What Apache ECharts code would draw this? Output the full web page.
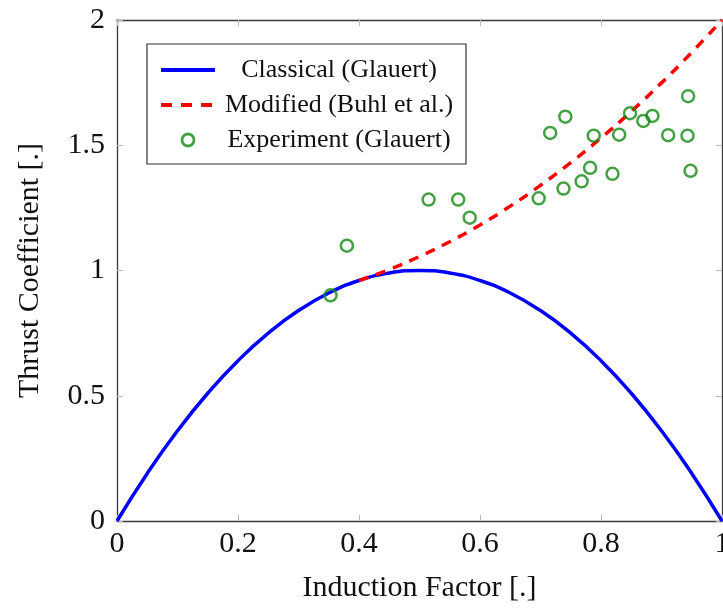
<!DOCTYPE html>
<html><head><meta charset="utf-8">
<script src="https://cdn.jsdelivr.net/npm/echarts@6/dist/echarts.min.js"></script>
<style>html,body{margin:0;padding:0;background:#fff}#c{width:723px;height:610px}</style>
</head><body><div id="c"></div>
<script>
// Classical (Glauert) curve
const classicalA  = [0, 0.05, 0.1, 0.15, 0.2, 0.25, 0.3, 0.35, 0.4, 0.45, 0.5, 0.55, 0.6, 0.65, 0.7, 0.75, 0.8, 0.85, 0.9, 0.95, 1];
const classicalCT = [0, 0.19, 0.36, 0.51, 0.64, 0.75, 0.84, 0.91, 0.96, 0.99, 1.0, 0.99, 0.96, 0.91, 0.84, 0.75, 0.64, 0.51, 0.36, 0.19, 0];
// Modified (Buhl et al.) curve
const modifiedA  = [0.4, 0.45, 0.5, 0.55, 0.6, 0.65, 0.7, 0.75, 0.8, 0.85, 0.9, 0.95, 1];
const modifiedCT = [0.96, 1.004, 1.056, 1.115, 1.182, 1.257, 1.34, 1.431, 1.529, 1.635, 1.749, 1.871, 2.0];
// Experiment (Glauert)
const expA  = [0.353, 0.380, 0.515, 0.564, 0.583, 0.697, 0.716, 0.741, 0.738, 0.768, 0.782, 0.788, 0.819, 0.830, 0.848, 0.870, 0.885, 0.911, 0.943, 0.948, 0.944];
const expCT = [0.901, 1.099, 1.283, 1.283, 1.211, 1.288, 1.549, 1.614, 1.327, 1.356, 1.410, 1.538, 1.386, 1.542, 1.628, 1.597, 1.617, 1.540, 1.538, 1.398, 1.696];

const seriesNames = ['Classical (Glauert)', 'Modified (Buhl et al.)', 'Experiment (Glauert)'];
const xTitle = 'Induction Factor [.]';
const yTitle = 'Thrust Coefficient [.]';

const zip = (a, b) => a.map((v, i) => [v, b[i]]);
const font = 'Liberation Serif';
const txt = '#111';
const green = '#148a14';
const axLine = {show: true, onZero: false, lineStyle: {color: '#3a3a3a', width: 1.3}};
const tick = {show: true, inside: true, length: 6, lineStyle: {color: '#b8b8b8', width: 1}};

const chart = echarts.init(document.getElementById('c'), null, {renderer: 'canvas'});
chart.setOption({
  animation: false,
  backgroundColor: '#fff',
  grid: {left: 117, right: 1, top: 20, bottom: 89, containLabel: false, outerBoundsMode: 'none'},
  xAxis: [
    {type: 'value', min: 0, max: 1, interval: 0.2,
     name: xTitle, nameLocation: 'middle', nameGap: 52,
     nameTextStyle: {fontFamily: font, fontSize: 30, color: txt},
     axisLine: axLine, axisTick: tick, splitLine: {show: false},
     axisLabel: {fontFamily: font, fontSize: 30, color: txt, margin: 8}},
    {type: 'value', position: 'top', min: 0, max: 1, interval: 0.2,
     axisLine: axLine, axisTick: tick, splitLine: {show: false}, axisLabel: {show: false}}
  ],
  yAxis: [
    {type: 'value', min: 0, max: 2, interval: 0.5,
     name: yTitle, nameLocation: 'middle', nameGap: 72,
     nameTextStyle: {fontFamily: font, fontSize: 30, color: txt},
     axisLine: axLine, axisTick: tick, splitLine: {show: false},
     axisLabel: {fontFamily: font, fontSize: 30, color: txt, margin: 12}},
    {type: 'value', position: 'right', min: 0, max: 2, interval: 0.5,
     axisLine: axLine, axisTick: tick, splitLine: {show: false}, axisLabel: {show: false}}
  ],
  legend: {
    orient: 'vertical', left: 147, top: 44,
    backgroundColor: '#fff', borderColor: '#333', borderWidth: 1.2,
    padding: [13, 8, 11, 12], itemGap: 9,
    itemWidth: 54, itemHeight: 12,
    data: [
      {name: seriesNames[0], itemStyle: {opacity: 0}, lineStyle: {width: 4}},
      {name: seriesNames[1], itemStyle: {opacity: 0}, lineStyle: {width: 4, type: [11, 9]}},
      {name: seriesNames[2], itemStyle: {borderWidth: 2.8}}
    ],
    formatter: n => '{t|' + n + '}',
    textStyle: {fontFamily: font, fontSize: 26, color: txt,
      rich: {t: {width: 238, align: 'center', fontFamily: font, fontSize: 26, color: txt, lineHeight: 26}}}
  },
  series: [
    {name: seriesNames[0], type: 'line', data: zip(classicalA, classicalCT), smooth: true,
     showSymbol: false, symbol: 'none', lineStyle: {color: '#0000ff', width: 3.5}, itemStyle: {color: '#0000ff'}, z: 2},
    {name: seriesNames[1], type: 'line', data: zip(modifiedA, modifiedCT), smooth: true,
     showSymbol: false, symbol: 'none', lineStyle: {color: '#ff0000', width: 3.5, type: [10, 8]}, itemStyle: {color: '#ff0000'}, z: 3},
    {name: seriesNames[2], type: 'scatter', data: zip(expA, expCT), symbol: 'circle', symbolSize: 12,
     itemStyle: {color: 'rgba(0,0,0,0)', borderColor: green, borderWidth: 2.5}, z: 4}
  ]
});
</script></body></html>
